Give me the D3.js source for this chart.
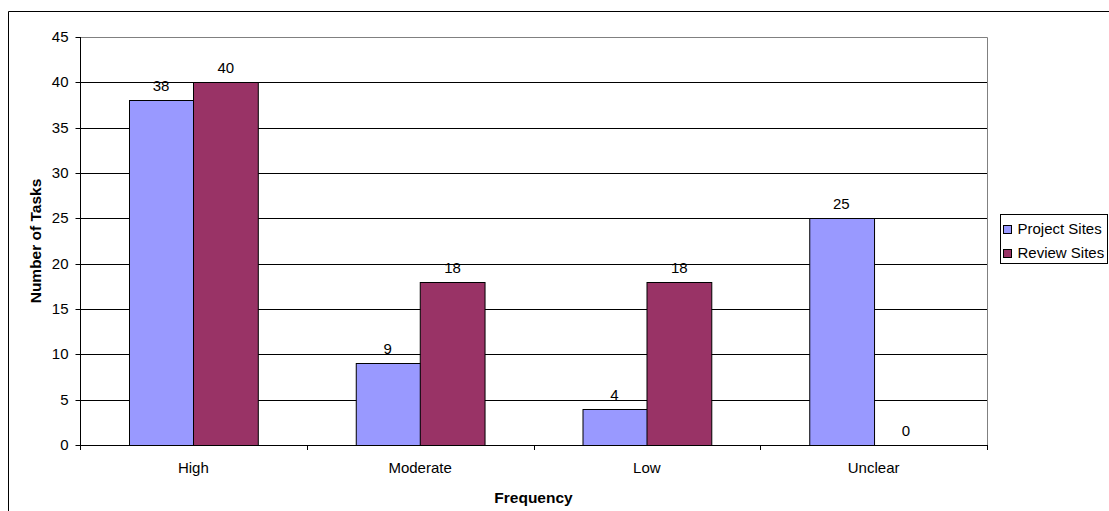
<!DOCTYPE html>
<html>
<head>
<meta charset="utf-8">
<script src="https://cdn.jsdelivr.net/npm/d3@7"></script>
<style>
  html, body { margin: 0; padding: 0; background: #fff; }
  svg { display: block; font-family: "Liberation Sans", Arial, sans-serif; }
</style>
</head>
<body>
<svg id="chart" width="1109" height="511"></svg>
<script>
// Task counts by frequency, for project sites and review sites
const categories = ["High", "Moderate", "Low", "Unclear"];
const seriesNames = ["Project Sites", "Review Sites"];
const projectSites = [38, 9, 4, 25];
const reviewSites = [40, 18, 18, 0];
const yTicks = [0, 5, 10, 15, 20, 25, 30, 35, 40, 45];
const colors = ["#9999FF", "#993366"];

const FONT = 15;
const svg = d3.select("#chart");
const plot = { left: 80, top: 37, right: 987, bottom: 445 };

// Outer chart frame
svg.append("path")
  .attr("d", "M8.5,520 V11.5 H1120")
  .attr("fill", "none").attr("stroke", "#000").attr("stroke-width", 1);

const x = d3.scaleBand().domain(categories).range([plot.left, plot.right]);
const xs = d3.scaleBand().domain(seriesNames)
  .range([0, x.bandwidth()]).paddingInner(0).paddingOuter(0.75);
const y = d3.scaleLinear().domain([0, 45]).range([plot.bottom, plot.top]);

// Horizontal gridlines
svg.append("g").selectAll("line")
  .data(yTicks.filter(v => v > 0 && v < 45))
  .join("line")
  .attr("x1", plot.left).attr("x2", plot.right)
  .attr("y1", d => Math.round(y(d)) + 0.5).attr("y2", d => Math.round(y(d)) + 0.5)
  .attr("stroke", "#000").attr("stroke-width", 1);

// Plot area border (top and right)
svg.append("path")
  .attr("d", `M${plot.left},${Math.round(plot.top) + 0.5} H${plot.right + 0.5} V${plot.bottom}`)
  .attr("fill", "none").attr("stroke", "#808080").attr("stroke-width", 1);

// Bars
const rows = categories.map((c, i) => ({ cat: c, vals: [projectSites[i], reviewSites[i]] }));
const groups = svg.append("g").selectAll("g").data(rows).join("g")
  .attr("transform", d => `translate(${x(d.cat)},0)`);

groups.selectAll("rect")
  .data(d => d.vals.map((v, j) => ({ name: seriesNames[j], v, j })))
  .join("rect")
  .attr("x", d => Math.round(xs(d.name)) + 0.5)
  .attr("width", xs.bandwidth())
  .attr("y", d => Math.round(y(d.v)) + 0.5)
  .attr("height", d => Math.round(y(0)) - Math.round(y(d.v)))
  .attr("fill", d => colors[d.j])
  .attr("stroke", d => d.v > 0 ? "#000" : "none")
  .attr("stroke-width", 1);

// Value labels
groups.selectAll("text")
  .data(d => d.vals.map((v, j) => ({ name: seriesNames[j], v, j })))
  .join("text")
  .attr("x", d => xs(d.name) + xs.bandwidth() / 2)
  .attr("y", d => y(d.v) - 9)
  .attr("text-anchor", "middle")
  .attr("font-size", FONT)
  .attr("fill", "#000")
  .text(d => d.v);

// Y axis
const yAxis = d3.axisLeft(y).tickValues(yTicks).tickSize(5).tickPadding(7);
const yg = svg.append("g").attr("transform", `translate(${plot.left + 0.5},0)`).call(yAxis);
yg.select(".domain").attr("stroke", "#000").attr("d", `M0,${plot.top}V${plot.bottom}`);
yg.selectAll(".tick line").attr("stroke", "#000");
yg.selectAll(".tick").attr("transform", d => `translate(0,${Math.round(y(d)) + 0.5})`);
yg.selectAll("text").attr("font-size", FONT).attr("font-family", "Liberation Sans, Arial, sans-serif").attr("fill", "#000");

// X axis line with ticks at category boundaries
const xg = svg.append("g");
xg.append("line")
  .attr("x1", plot.left).attr("x2", plot.right + 1)
  .attr("y1", Math.round(plot.bottom) + 0.5).attr("y2", Math.round(plot.bottom) + 0.5)
  .attr("stroke", "#000");
const bounds = categories.map(c => x(c)).concat([plot.right]);
xg.selectAll("line.tk").data(bounds).join("line").attr("class", "tk")
  .attr("x1", d => Math.round(d) + 0.5).attr("x2", d => Math.round(d) + 0.5)
  .attr("y1", plot.bottom).attr("y2", plot.bottom + 5)
  .attr("stroke", "#000");
xg.selectAll("text").data(categories).join("text")
  .attr("x", d => x(d) + x.bandwidth() / 2)
  .attr("y", 473)
  .attr("text-anchor", "middle")
  .attr("font-size", FONT)
  .attr("fill", "#000")
  .text(d => d);

// Axis titles
svg.append("text")
  .attr("x", (plot.left + plot.right) / 2).attr("y", 503)
  .attr("text-anchor", "middle").attr("font-size", 15.5).attr("font-weight", "bold")
  .text("Frequency");
svg.append("text")
  .attr("transform", `translate(41,${(plot.top + plot.bottom) / 2}) rotate(-90)`)
  .attr("text-anchor", "middle").attr("font-size", 15.5).attr("font-weight", "bold")
  .text("Number of Tasks");

// Legend
const lg = svg.append("g").attr("transform", "translate(1000.5,214.5)");
lg.append("rect").attr("width", 107).attr("height", 49)
  .attr("fill", "#fff").attr("stroke", "#000");
const items = lg.selectAll("g").data(seriesNames).join("g")
  .attr("transform", (d, i) => `translate(0,${19 + i * 24})`);
items.append("rect").attr("x", 3).attr("y", -8).attr("width", 8).attr("height", 8)
  .attr("fill", (d, i) => colors[i]).attr("stroke", "#000");
items.append("text").attr("x", 17).attr("y", 0)
  .attr("font-size", FONT).attr("fill", "#000").text(d => d);
</script>
</body>
</html>
